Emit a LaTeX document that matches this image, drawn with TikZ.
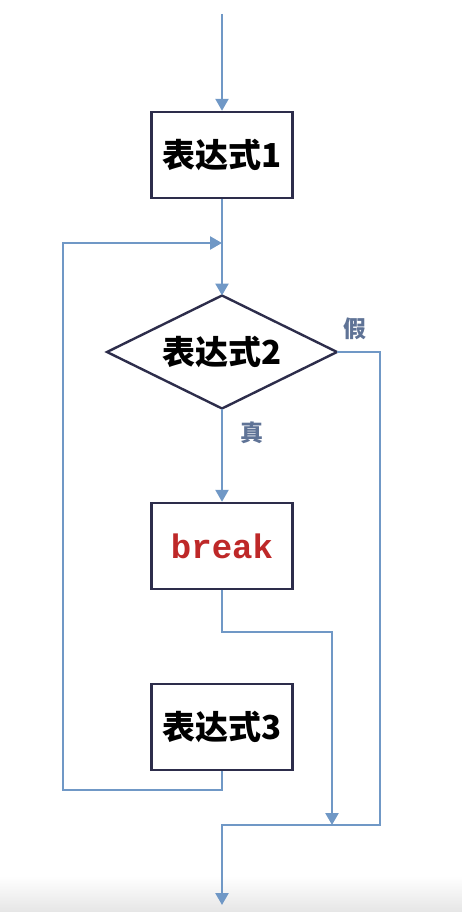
\documentclass[tikz,border=0pt]{standalone}
\usepackage{fontspec}
\newfontfamily\cjk{Noto Sans CJK SC}
\newfontfamily\monofont{Liberation Mono}
\usetikzlibrary{arrows.meta}
\definecolor{linec}{RGB}{112,152,198}
\definecolor{boxc}{RGB}{45,45,75}
\definecolor{labc}{RGB}{95,115,150}
\definecolor{redc}{RGB}{190,40,40}
\tikzset{
  conn/.style={draw=linec, line width=2.4pt},
  arr/.style={conn, -{Triangle[width=13pt,length=12pt]}},
  box/.style={draw=boxc, line width=2.4pt, fill=white, rectangle, minimum width=141pt, minimum height=86pt, inner sep=0pt, font=\cjk\bfseries\fontsize{33}{36}\selectfont},
  diaframe/.style={draw=boxc, line width=2.4pt, fill=white, line join=miter},
  dia/.style={rectangle, minimum width=230pt, minimum height=113pt, inner sep=0pt, outer sep=0pt, font=\cjk\bfseries\fontsize{33}{36}\selectfont},
  lab/.style={text=labc, font=\cjk\bfseries\fontsize{23}{26}\selectfont, inner sep=0pt}
}
\begin{document}
\begin{tikzpicture}[x=1pt,y=-1pt]
\useasboundingbox (0,0) rectangle (462,912);
\shade[top color=white, bottom color=black!10] (0,876) rectangle (462,912);
\coordinate (dc) at (222,352);
\path[diaframe] ([xshift=-115pt]dc) -- ([yshift=56.5pt]dc) -- ([xshift=115pt]dc) -- ([yshift=-56.5pt]dc) -- cycle;
\node[box] (b1) at (222,155) {表达式1};
\node[dia] (d2) at (dc) {表达式2};
\node[box] (b2) at (222,546) {\monofont\color{redc}\fontsize{34}{36}\selectfont break};
\node[box] (b3) at (222,727) {表达式3};
\node[lab] (f) at (355,329) {假};
\node[lab] (t) at (252,433) {真};
\coordinate (top) at (222,14);
\coordinate (j1) at (222,243);
\coordinate (l1) at (63,790);
\coordinate (m1) at (332,632);
\coordinate (m2) at (332,825);
\coordinate (r1) at (380,825);
\coordinate (j2) at (222,825);
\coordinate (bot) at (222,905);
\draw[arr] (top) -- (b1);
\draw[arr] (b1) -- (d2.north);
\draw[arr] (b3.south) |- (l1) |- (j1);
\draw[arr] (d2.south) -- (b2);
\draw[arr] (b2.south) |- (m1) -- (m2);
\draw[arr] (d2.east) -| (r1) -- (j2) -- (bot);
\end{tikzpicture}
\end{document}
